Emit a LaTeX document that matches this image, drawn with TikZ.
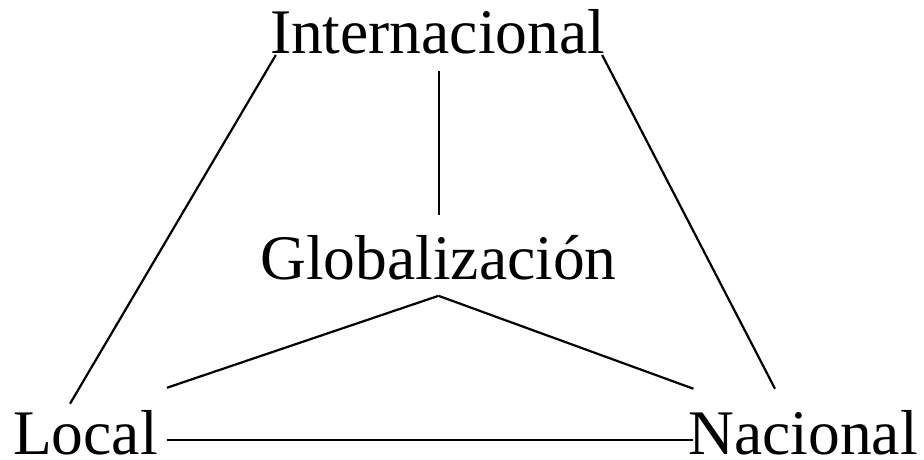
\documentclass[tikz,border=0pt]{standalone}
\usepackage{fontspec}
\setmainfont{Liberation Serif}
\usetikzlibrary{positioning}

\begin{document}
\begin{tikzpicture}[
    x=1pt, y=-1pt,
    term/.style={inner sep=0pt, font=\fontsize{63.5}{70}\selectfont},
    link/.style={line width=2.2pt}
]
\useasboundingbox (0,0) rectangle (924,459);

% Terms
\node[term, anchor=base] (inter) at (437.5,53) {Internacional};
\node[term, anchor=base] (glob) at (438.5,279) {Globalización};
\node[term, anchor=base west] (local) at (13,454) {Local};
\node[term, anchor=base east] (nac) at (918,454) {Nacional};

% Outer links
\draw[link] ([xshift=6pt,yshift=-2pt]inter.base west) -- ([xshift=57pt,yshift=6pt]local.north west);
\draw[link] ([xshift=-3pt,yshift=-2pt]inter.base east) -- ([xshift=-143pt,yshift=21pt]nac.north east);
\draw[link] ([xshift=9pt,yshift=14pt]local.base east) -- ([xshift=5pt,yshift=14pt]nac.base west);

% Links to the centre
\draw[link] ([xshift=1.5pt,yshift=-17pt]inter.south) -- ([xshift=0.5pt,yshift=20pt]glob.north);
\draw[link] ([yshift=-16pt]glob.south) -- ([xshift=9pt,yshift=22pt]local.north east);
\draw[link] ([yshift=-16pt]glob.south) -- ([xshift=5pt,yshift=21pt]nac.north west);

\end{tikzpicture}
\end{document}
